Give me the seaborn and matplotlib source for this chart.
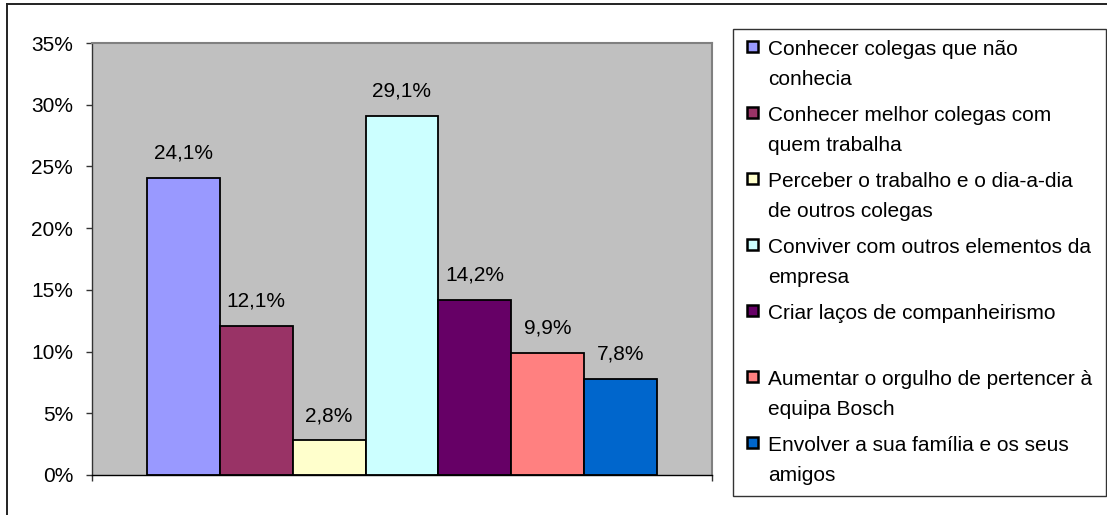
import matplotlib
matplotlib.use("Agg")
import matplotlib.pyplot as plt
from matplotlib.patches import Rectangle
from matplotlib.lines import Line2D
from matplotlib.legend_handler import HandlerPatch
from matplotlib.ticker import FuncFormatter
import pandas as pd
import seaborn as sns

plt.rcParams["font.family"] = ["Liberation Sans", "DejaVu Sans"]

# Survey answers: share of respondents per motivation (%)
motivos = [
    "Conhecer colegas que não\nconhecia",
    "Conhecer melhor colegas com\nquem trabalha",
    "Perceber o trabalho e o dia-a-dia\nde outros colegas",
    "Conviver com outros elementos da\nempresa",
    "Criar laços de companheirismo\n",
    "Aumentar o orgulho de pertencer à\nequipa Bosch",
    "Envolver a sua família e os seus\namigos",
]
percentagens = [24.1, 12.1, 2.8, 29.1, 14.2, 9.9, 7.8]
cores = ["#9999FF", "#993366", "#FFFFCC", "#CCFFFF", "#660066", "#FF8080", "#0066CC"]
y_ticks = [0, 5, 10, 15, 20, 25, 30, 35]

df = pd.DataFrame({"grupo": ["Todos"] * len(motivos),
                   "motivo": motivos,
                   "pct": percentagens})

W, H = 1107, 515
FS = 15
fig = plt.figure(figsize=(W / 100, H / 100), dpi=100)
fig.patch.set_facecolor("white")

ax = fig.add_axes([92 / W, 40 / H, 620 / W, 432 / H])
ax.set_facecolor("#C0C0C0")

sns.barplot(data=df, x="grupo", y="pct", hue="motivo", hue_order=motivos,
            palette=cores, width=0.824, gap=0, dodge=True,
            edgecolor="black", linewidth=1.3, saturation=1, ax=ax)

ax.set_xlim(-0.5, 0.5)
ax.set_ylim(0, 35)
ax.set_yticks(y_ticks)
ax.yaxis.set_major_formatter(FuncFormatter(lambda v, _: f"{v:.0f}%"))
ax.set_xticks([-0.5, 0.5])
ax.set_xticklabels(["", ""])
ax.set_xlabel("")
ax.set_ylabel("")
ax.tick_params(axis="y", direction="out", length=4.5, width=1, color="#333333",
               pad=9, labelsize=FS, labelcolor="black")
ax.tick_params(axis="x", direction="out", length=4.5, width=1, color="#333333")

for side in ("top", "right"):
    ax.spines[side].set_color("#808080")
    ax.spines[side].set_linewidth(1.5)
ax.spines["left"].set_color("#333333")
ax.spines["bottom"].set_color("black")
ax.spines["left"].set_linewidth(1)
ax.spines["bottom"].set_linewidth(1)

for cont in ax.containers:
    ax.bar_label(cont, labels=[f"{b.get_height():.1f}%".replace(".", ",") for b in cont],
                 padding=11, fontsize=FS, color="black")

handles = [Rectangle((0, 0), 1, 1, facecolor=c, edgecolor="black", linewidth=1.8)
           for c in cores]
if ax.get_legend() is not None:
    ax.get_legend().remove()


def square_handle(legend, orig_handle, xdescent, ydescent, width, height, fontsize):
    s = 8.0
    lift = 13.5
    return Rectangle((-xdescent + (width - s) / 2, -ydescent + (height - s) / 2 + lift), s, s)


leg = fig.legend(handles, motivos, loc="upper left",
                 bbox_to_anchor=(733 / W, 1 - 491 / H, (1106 - 733) / W, (491 - 29) / H),
                 bbox_transform=fig.transFigure, mode="expand",
                 fontsize=FS, frameon=True, fancybox=False, shadow=False,
                 borderpad=0.55, borderaxespad=0, labelspacing=0.84,
                 handlelength=0.75, handletextpad=0.4,
                 handler_map={Rectangle: HandlerPatch(patch_func=square_handle)})
leg.get_frame().set_edgecolor("black")
leg.get_frame().set_linewidth(1)
for t in leg.get_texts():
    t.set_linespacing(1.7)

# outer chart border (top and left edges)
fig.add_artist(Line2D([7 / W, 7 / W], [0, 1 - 4 / H], transform=fig.transFigure,
                      color="#222222", linewidth=1.4))
fig.add_artist(Line2D([7 / W, 1], [1 - 4 / H, 1 - 4 / H], transform=fig.transFigure,
                      color="#222222", linewidth=1.4))

fig.savefig("out.png", dpi=100)
